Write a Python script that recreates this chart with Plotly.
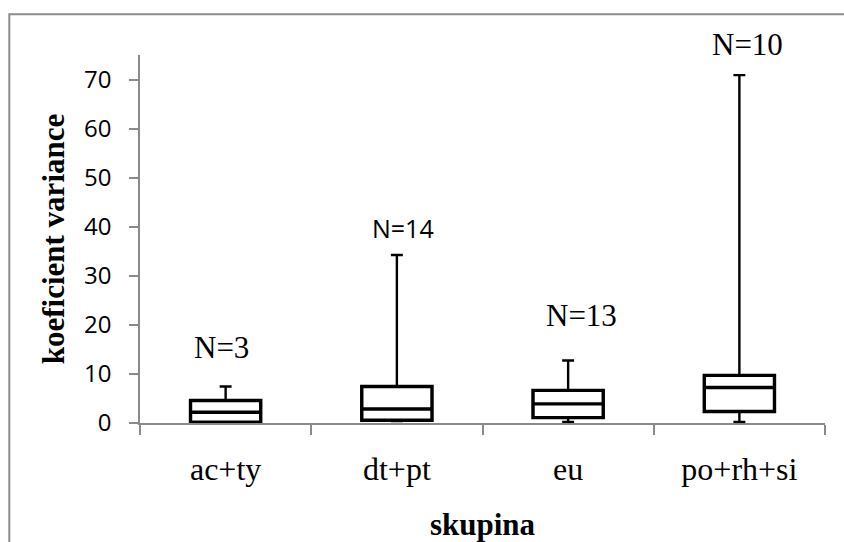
import plotly.graph_objects as go

categories = ["ac+ty", "dt+pt", "eu", "po+rh+si"]
lower_fence = [0.05, 0.4, 0.2, 0.2]
q1 = [0.15, 0.55, 1.1, 2.35]
median = [2.2, 2.85, 3.9, 7.25]
q3 = [4.6, 7.45, 6.65, 9.7]
upper_fence = [7.45, 34.25, 12.75, 70.9]
n_labels = ["N=3", "N=14", "N=13", "N=10"]
y_ticks = [0, 10, 20, 30, 40, 50, 60, 70]

Y_MAX = 75
label_y = [15.3, 39.7, 22.0, 77.2]
label_xshift = [-4, 6, 13, 8]
label_fonts = [
    dict(family="Liberation Serif", size=31, color="black"),
    dict(family="Open Sans", size=25, color="black"),
    dict(family="Liberation Serif", size=31, color="black"),
    dict(family="Liberation Serif", size=31, color="black"),
]

SERIF = "Liberation Serif"
SANS = "Open Sans"
GRAY = "#8a8a8a"

fig = go.Figure()

# whiskers (thinner)
fig.add_trace(go.Box(
    x=categories, q1=q1, median=median, q3=q3,
    lowerfence=lower_fence, upperfence=upper_fence,
    width=0.41, whiskerwidth=0.17,
    line=dict(color="black", width=2.4), fillcolor="white",
    boxpoints=False, hoverinfo="skip", showlegend=False,
))
# boxes (thicker)
fig.add_trace(go.Box(
    x=categories, q1=q1, median=median, q3=q3,
    lowerfence=q1, upperfence=q3,
    width=0.41, whiskerwidth=0,
    line=dict(color="black", width=3.4), fillcolor="white",
    boxpoints=False, hoverinfo="skip", showlegend=False,
))

for cat, txt, yy, xs, fnt in zip(categories, n_labels, label_y, label_xshift, label_fonts):
    fig.add_annotation(x=cat, y=yy / Y_MAX, xref="x", yref="paper", text=txt,
                       showarrow=False, xshift=xs,
                       xanchor="center", yanchor="middle", font=fnt)

fig.add_shape(type="rect", xref="paper", yref="paper",
              x0=-0.1908, x1=2, y0=-2, y1=1.111,
              line=dict(color="#8c8c8c", width=2), fillcolor="rgba(0,0,0,0)",
              layer="below")

fig.update_layout(
    width=844, height=542,
    margin=dict(l=140, r=19, t=55, b=119, autoexpand=False),
    paper_bgcolor="white", plot_bgcolor="white",
    boxmode="overlay",
    xaxis=dict(
        type="category", range=[-0.5, len(categories) - 0.5],
        showgrid=False, showline=True, linecolor=GRAY, linewidth=1.5,
        ticks="outside", tickson="boundaries", ticklen=10, tickcolor=GRAY, tickwidth=1.5,
        tickfont=dict(family=SERIF, size=32, color="black"),
        ticklabelstandoff=17, automargin=False,
        layer="below traces",
        title=dict(text="<b>skupina</b>", font=dict(family=SERIF, size=31, color="black"), standoff=27),
    ),
    yaxis=dict(
        range=[0, Y_MAX], tickvals=y_ticks, showgrid=False, zeroline=False,
        showline=True, linecolor=GRAY, linewidth=1.5,
        ticks="outside", ticklen=9, tickcolor=GRAY, tickwidth=1.5,
        tickfont=dict(family=SANS, size=24, color="black"),
        ticklabelstandoff=13, automargin=False,
        layer="below traces",
        title=dict(text="<b>koeficient variance</b>", font=dict(family=SERIF, size=31, color="black"), standoff=10),
    ),
)

fig.write_html("out.html", config={"displayModeBar": False},
               post_script="document.body.style.margin='0';document.body.style.overflow='hidden';")
